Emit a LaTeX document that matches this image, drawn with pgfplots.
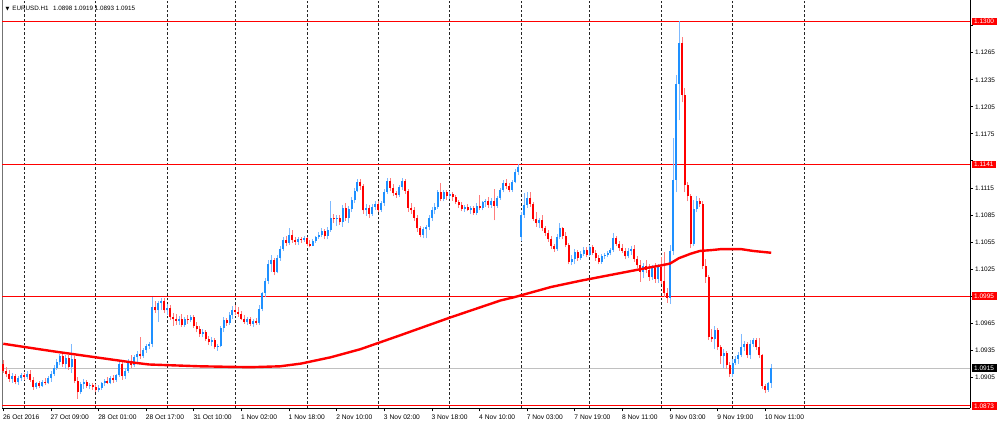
\documentclass[border=0pt]{standalone}
\usepackage{pgfplots}
\pgfplotsset{compat=1.18}
\usepackage{pgfplotstable}
\usepackage{fontspec}
\setmainfont{Liberation Sans}
\newfontfamily\dejavu{DejaVu Sans}
\definecolor{mtred}{RGB}{255,0,0}
\definecolor{bullbody}{RGB}{30,144,255}
\definecolor{bullwick}{RGB}{125,185,255}
\definecolor{bearbody}{RGB}{255,0,0}
\definecolor{bearwick}{RGB}{255,125,125}
\definecolor{lvlgray}{RGB}{192,192,192}

\pgfplotstableread{
x o h l c
0 1.0920 1.0924 1.0910 1.0912
1 1.0912 1.0916 1.0905 1.0908
2 1.0908 1.0913 1.0900 1.0903
3 1.0903 1.0910 1.0899 1.0906
4 1.0906 1.0909 1.0897 1.0900
5 1.0900 1.0906 1.0896 1.0904
6 1.0904 1.0910 1.0901 1.0907
7 1.0907 1.0910 1.0902 1.0905
8 1.0905 1.0912 1.0903 1.0909
9 1.0909 1.0913 1.0900 1.0902
10 1.0902 1.0905 1.0891 1.0894
11 1.0894 1.0900 1.0892 1.0898
12 1.0898 1.0901 1.0893 1.0895
13 1.0895 1.0902 1.0894 1.0900
14 1.0900 1.0904 1.0896 1.0898
15 1.0898 1.0906 1.0897 1.0904
16 1.0904 1.0912 1.0900 1.0909
17 1.0909 1.0918 1.0906 1.0915
18 1.0915 1.0925 1.0913 1.0922
19 1.0922 1.0931 1.0918 1.0928
20 1.0928 1.0932 1.0916 1.0919
21 1.0919 1.0930 1.0914 1.0926
22 1.0926 1.0929 1.0913 1.0916
23 1.0916 1.0942 1.0910 1.0925
24 1.0925 1.0928 1.0898 1.0901
25 1.0901 1.0905 1.0881 1.0888
26 1.0888 1.0900 1.0886 1.0897
27 1.0897 1.0903 1.0892 1.0900
28 1.0900 1.0902 1.0893 1.0895
29 1.0895 1.0899 1.0892 1.0896
30 1.0896 1.0898 1.0891 1.0894
31 1.0894 1.0897 1.0889 1.0891
32 1.0891 1.0896 1.0888 1.0893
33 1.0893 1.0900 1.0891 1.0898
34 1.0898 1.0903 1.0895 1.0901
35 1.0901 1.0905 1.0897 1.0899
36 1.0899 1.0906 1.0897 1.0904
37 1.0904 1.0907 1.0899 1.0902
38 1.0902 1.0909 1.0900 1.0907
39 1.0907 1.0922 1.0905 1.0919
40 1.0919 1.0922 1.0902 1.0906
41 1.0906 1.0915 1.0903 1.0912
42 1.0912 1.0925 1.0910 1.0922
43 1.0922 1.0930 1.0915 1.0918
44 1.0918 1.0930 1.0916 1.0927
45 1.0927 1.0934 1.0922 1.0931
46 1.0931 1.0949 1.0925 1.0928
47 1.0928 1.0937 1.0926 1.0935
48 1.0935 1.0942 1.0932 1.0940
49 1.0940 1.0944 1.0936 1.0942
50 1.0942 1.0994 1.0938 1.0983
51 1.0983 1.0990 1.0976 1.0979
52 1.0979 1.0990 1.0966 1.0987
53 1.0987 1.0993 1.0980 1.0989
54 1.0989 1.0993 1.0976 1.0979
55 1.0979 1.0986 1.0974 1.0982
56 1.0982 1.0985 1.0968 1.0972
57 1.0972 1.0976 1.0962 1.0969
58 1.0969 1.0975 1.0963 1.0967
59 1.0967 1.0973 1.0963 1.0970
60 1.0970 1.0975 1.0961 1.0963
61 1.0963 1.0972 1.0961 1.0969
62 1.0969 1.0974 1.0964 1.0968
63 1.0968 1.0974 1.0966 1.0972
64 1.0972 1.0974 1.0960 1.0962
65 1.0962 1.0966 1.0955 1.0958
66 1.0958 1.0962 1.0950 1.0953
67 1.0953 1.0958 1.0949 1.0955
68 1.0955 1.0957 1.0945 1.0947
69 1.0947 1.0951 1.0941 1.0944
70 1.0944 1.0949 1.0940 1.0946
71 1.0946 1.0948 1.0936 1.0938
72 1.0938 1.0942 1.0934 1.0940
73 1.0940 1.0962 1.0938 1.0960
74 1.0960 1.0972 1.0955 1.0968
75 1.0968 1.0971 1.0962 1.0965
76 1.0965 1.0977 1.0963 1.0974
77 1.0974 1.0984 1.0970 1.0980
78 1.0980 1.0985 1.0974 1.0977
79 1.0977 1.0983 1.0972 1.0975
80 1.0975 1.0978 1.0968 1.0970
81 1.0970 1.0974 1.0964 1.0966
82 1.0966 1.0972 1.0963 1.0969
83 1.0969 1.0972 1.0962 1.0964
84 1.0964 1.0970 1.0961 1.0967
85 1.0967 1.0971 1.0963 1.0965
86 1.0965 1.0985 1.0963 1.0981
87 1.0981 1.1000 1.0978 1.0998
88 1.0998 1.1015 1.0994 1.1012
89 1.1012 1.1035 1.1008 1.1030
90 1.1030 1.1040 1.1022 1.1035
91 1.1035 1.1037 1.1018 1.1022
92 1.1022 1.1040 1.1020 1.1037
93 1.1037 1.1050 1.1034 1.1047
94 1.1047 1.1060 1.1045 1.1057
95 1.1057 1.1062 1.1050 1.1054
96 1.1054 1.1070 1.1052 1.1063
97 1.1063 1.1068 1.1054 1.1057
98 1.1057 1.1060 1.1052 1.1055
99 1.1055 1.1060 1.1052 1.1058
100 1.1058 1.1061 1.1054 1.1057
101 1.1057 1.1062 1.1055 1.1059
102 1.1059 1.1061 1.1051 1.1053
103 1.1053 1.1057 1.1049 1.1051
104 1.1051 1.1058 1.1050 1.1056
105 1.1056 1.1062 1.1054 1.1060
106 1.1060 1.1066 1.1058 1.1063
107 1.1063 1.1070 1.1060 1.1067
108 1.1067 1.1069 1.1058 1.1062
109 1.1062 1.1072 1.1058 1.1068
110 1.1068 1.1101 1.1066 1.1082
111 1.1082 1.1086 1.1076 1.1080
112 1.1080 1.1085 1.1073 1.1082
113 1.1082 1.1085 1.1074 1.1077
114 1.1077 1.1096 1.1072 1.1093
115 1.1093 1.1098 1.1078 1.1082
116 1.1082 1.1095 1.1076 1.1092
117 1.1092 1.1105 1.1088 1.1102
118 1.1102 1.1115 1.1098 1.1112
119 1.1112 1.1125 1.1110 1.1121
120 1.1121 1.1125 1.1113 1.1117
121 1.1117 1.1119 1.1086 1.1090
122 1.1090 1.1097 1.1084 1.1093
123 1.1093 1.1096 1.1082 1.1086
124 1.1086 1.1097 1.1084 1.1094
125 1.1094 1.1100 1.1090 1.1097
126 1.1097 1.1100 1.1088 1.1091
127 1.1091 1.1100 1.1088 1.1098
128 1.1098 1.1114 1.1095 1.1111
129 1.1111 1.1126 1.1108 1.1123
130 1.1123 1.1126 1.1112 1.1115
131 1.1115 1.1119 1.1106 1.1109
132 1.1109 1.1112 1.1104 1.1107
133 1.1107 1.1118 1.1105 1.1116
134 1.1116 1.1126 1.1113 1.1123
135 1.1123 1.1125 1.1108 1.1112
136 1.1112 1.1114 1.1088 1.1093
137 1.1093 1.1098 1.1086 1.1090
138 1.1090 1.1094 1.1078 1.1082
139 1.1082 1.1085 1.1066 1.1070
140 1.1070 1.1073 1.1060 1.1063
141 1.1063 1.1072 1.1059 1.1069
142 1.1069 1.1074 1.1059 1.1072
143 1.1072 1.1085 1.1068 1.1082
144 1.1082 1.1094 1.1078 1.1090
145 1.1090 1.1098 1.1086 1.1094
146 1.1094 1.1113 1.1092 1.1110
147 1.1110 1.1120 1.1100 1.1103
148 1.1103 1.1113 1.1100 1.1110
149 1.1110 1.1113 1.1102 1.1106
150 1.1106 1.1112 1.1103 1.1108
151 1.1108 1.1110 1.1101 1.1105
152 1.1105 1.1107 1.1097 1.1099
153 1.1099 1.1102 1.1093 1.1096
154 1.1096 1.1099 1.1089 1.1092
155 1.1092 1.1096 1.1088 1.1094
156 1.1094 1.1097 1.1089 1.1091
157 1.1091 1.1095 1.1086 1.1093
158 1.1093 1.1095 1.1085 1.1087
159 1.1087 1.1098 1.1085 1.1095
160 1.1095 1.1107 1.1090 1.1093
161 1.1093 1.1101 1.1090 1.1099
162 1.1099 1.1103 1.1094 1.1101
163 1.1101 1.1105 1.1093 1.1096
164 1.1096 1.1104 1.1093 1.1101
165 1.1101 1.1114 1.1079 1.1095
166 1.1095 1.1106 1.1093 1.1104
167 1.1104 1.1115 1.1102 1.1113
168 1.1113 1.1124 1.1110 1.1120
169 1.1120 1.1125 1.1114 1.1117
170 1.1117 1.1120 1.1110 1.1113
171 1.1113 1.1124 1.1111 1.1122
172 1.1122 1.1136 1.1120 1.1133
173 1.1133 1.1141 1.1129 1.1138
174 1.1061 1.1088 1.1056 1.1085
175 1.1085 1.1109 1.1082 1.1096
176 1.1096 1.1110 1.1093 1.1104
177 1.1104 1.1110 1.1094 1.1097
178 1.1097 1.1099 1.1078 1.1081
179 1.1081 1.1088 1.1072 1.1076
180 1.1076 1.1082 1.1070 1.1079
181 1.1079 1.1085 1.1067 1.1070
182 1.1070 1.1073 1.1062 1.1065
183 1.1065 1.1068 1.1055 1.1058
184 1.1058 1.1062 1.1047 1.1050
185 1.1050 1.1053 1.1044 1.1047
186 1.1047 1.1064 1.1045 1.1061
187 1.1061 1.1076 1.1058 1.1070
188 1.1070 1.1072 1.1058 1.1062
189 1.1062 1.1066 1.1049 1.1052
190 1.1052 1.1054 1.1030 1.1033
191 1.1033 1.1040 1.1029 1.1036
192 1.1036 1.1047 1.1030 1.1044
193 1.1044 1.1046 1.1034 1.1037
194 1.1037 1.1045 1.1035 1.1042
195 1.1042 1.1049 1.1039 1.1046
196 1.1046 1.1049 1.1038 1.1041
197 1.1041 1.1052 1.1039 1.1049
198 1.1049 1.1052 1.1040 1.1043
199 1.1043 1.1046 1.1034 1.1037
200 1.1037 1.1040 1.1030 1.1033
201 1.1033 1.1042 1.1031 1.1039
202 1.1039 1.1043 1.1036 1.1041
203 1.1041 1.1045 1.1038 1.1043
204 1.1043 1.1048 1.1040 1.1046
205 1.1046 1.1065 1.1044 1.1059
206 1.1059 1.1062 1.1050 1.1053
207 1.1053 1.1056 1.1045 1.1048
208 1.1048 1.1053 1.1043 1.1045
209 1.1045 1.1048 1.1036 1.1039
210 1.1039 1.1048 1.1037 1.1045
211 1.1045 1.1050 1.1041 1.1047
212 1.1047 1.1052 1.1033 1.1036
213 1.1036 1.1039 1.1026 1.1029
214 1.1029 1.1035 1.1011 1.1022
215 1.1022 1.1032 1.1015 1.1028
216 1.1028 1.1035 1.1020 1.1024
217 1.1024 1.1030 1.1012 1.1016
218 1.1016 1.1029 1.1013 1.1026
219 1.1026 1.1032 1.1010 1.1014
220 1.1014 1.1030 1.1010 1.1027
221 1.1027 1.1038 1.1008 1.1012
222 1.1012 1.1044 1.0994 1.0998
223 1.0998 1.1004 1.0987 1.0993
224 1.0993 1.1052 1.0986 1.1045
225 1.1045 1.1170 1.1040 1.1124
226 1.1124 1.1240 1.1110 1.1230
227 1.1230 1.1300 1.1190 1.1276
228 1.1276 1.1282 1.1210 1.1218
229 1.1218 1.1226 1.1110 1.1118
230 1.1118 1.1122 1.1100 1.1106
231 1.1106 1.1108 1.1048 1.1053
232 1.1053 1.1102 1.1050 1.1092
233 1.1092 1.1106 1.1088 1.1101
234 1.1101 1.1104 1.1094 1.1097
235 1.1097 1.1100 1.1025 1.1028
236 1.1028 1.1036 1.1010 1.1016
237 1.1016 1.1018 1.0946 1.0950
238 1.0950 1.0958 1.0944 1.0947
239 1.0947 1.0962 1.0936 1.0957
240 1.0957 1.0959 1.0935 1.0938
241 1.0938 1.0941 1.0920 1.0928
242 1.0928 1.0936 1.0915 1.0932
243 1.0932 1.0934 1.0914 1.0918
244 1.0918 1.0922 1.0905 1.0908
245 1.0908 1.0925 1.0905 1.0921
246 1.0921 1.0928 1.0918 1.0925
247 1.0925 1.0933 1.0920 1.0930
248 1.0930 1.0953 1.0927 1.0938
249 1.0938 1.0945 1.0934 1.0942
250 1.0942 1.0944 1.0926 1.0929
251 1.0929 1.0946 1.0925 1.0942
252 1.0942 1.0948 1.0938 1.0946
253 1.0946 1.0948 1.0935 1.0938
254 1.0938 1.0948 1.0926 1.0929
255 1.0929 1.0931 1.0892 1.0895
256 1.0895 1.0897 1.0887 1.0891
257 1.0891 1.0900 1.0889 1.0898
258 1.0898 1.0919 1.0893 1.0915
}\candles

\pgfplotstableread{
x y
0 1.0942
16 1.0934
31 1.0927
44 1.0921
49 1.0919
66 1.0917
83 1.0916
93 1.0917
100 1.0920
110 1.0927
120 1.0936
133 1.0951
150 1.0971
167 1.0990
172 1.0994
184 1.1005
194 1.1012
205 1.1019
216 1.1026
221 1.1029
224 1.1031
227 1.1037
231 1.1042
234 1.1045
238 1.1046
241 1.1047
248 1.1047
252 1.1045
258 1.1043
}\ma

\begin{document}
\begin{tikzpicture}
\path (-2bp,-16bp) rectangle (998bp,408bp);
\begin{axis}[
  at={(0,0)}, anchor=south west,
  scale only axis, width=968bp, height=408bp,
  xmin=-0.34, xmax=324.8, ymin=1.08703, ymax=1.13230,
  axis x line*=bottom, axis y line*=right,
  axis line style={black, line width=1bp},
  clip=false,
  scaled y ticks=false,
  xtick={0,16,32,48,64,80,96,112,128,144,160,176,192,208,224,240,256},
  xticklabels={26 Oct 2016,27 Oct 09:00,28 Oct 01:00,28 Oct 17:00,31 Oct 10:00,1 Nov 02:00,1 Nov 18:00,2 Nov 10:00,3 Nov 02:00,3 Nov 18:00,4 Nov 10:00,7 Nov 03:00,7 Nov 19:00,8 Nov 11:00,9 Nov 03:00,9 Nov 19:00,10 Nov 11:00},
  ytick={1.0905,1.0935,1.0965,1.0995,1.1025,1.1055,1.1085,1.1115,1.1145,1.1175,1.1205,1.1235,1.1265,1.1295},
  yticklabels={1.0905,1.0935,1.0965,,1.1025,1.1055,1.1085,1.1115,,1.1175,1.1205,1.1235,1.1265,},
  tick align=outside, major tick length=3bp,
  tick style={black, line width=0.8bp},
  xticklabel style={anchor=north west, inner sep=0pt, font=\fontsize{6.7}{7}\selectfont, xshift=-0.5bp, yshift=-3bp},
  yticklabel style={anchor=west, inner sep=0pt, font=\fontsize{6.5}{7}\selectfont, xshift=2bp},
]
% day separators
\pgfplotsinvokeforeach{7,31,55,78,102,126,150,174,197,221,245,269}{
  \draw[black!85, line width=0.8bp, dash pattern=on 2.5bp off 2bp] (axis cs:#1,1.08703) -- (axis cs:#1,1.13230);
}
% left frame
\draw[black!55, line width=1bp] (axis cs:-0.34,1.08703) -- (axis cs:-0.34,1.13230);
% price line
\draw[lvlgray, line width=0.8bp] (axis cs:-0.34,1.0915) -- (axis cs:324.8,1.0915);
% horizontal levels
\pgfplotsinvokeforeach{1.1300,1.1141,1.0995,1.0873}{
  \draw[mtred, line width=1bp] (axis cs:-0.34,#1) -- (axis cs:324.8,#1);
}
% wicks
\addplot[forget plot, draw=none, mark=none,
  restrict expr to domain={\thisrow{c}-\thisrow{o}}{0:1},
  error bars/.cd, y dir=plus, y explicit, error mark=none,
  error bar style={line width=0.8bp, draw=bullwick}]
  table[x=x, y=l, y error plus expr={\thisrow{h}-\thisrow{l}}] {\candles};
\addplot[forget plot, draw=none, mark=none,
  restrict expr to domain={\thisrow{c}-\thisrow{o}}{-1:-0.00001},
  error bars/.cd, y dir=plus, y explicit, error mark=none,
  error bar style={line width=0.8bp, draw=bearwick}]
  table[x=x, y=l, y error plus expr={\thisrow{h}-\thisrow{l}}] {\candles};
% bodies
\addplot[forget plot, draw=none, mark=none,
  restrict expr to domain={\thisrow{c}-\thisrow{o}}{0:1},
  error bars/.cd, y dir=plus, y explicit, error mark=none,
  error bar style={line width=2bp, draw=bullbody}]
  table[x=x, y=o, y error plus expr={\thisrow{c}-\thisrow{o}}] {\candles};
\addplot[forget plot, draw=none, mark=none,
  restrict expr to domain={\thisrow{c}-\thisrow{o}}{-1:-0.00001},
  error bars/.cd, y dir=plus, y explicit, error mark=none,
  error bar style={line width=2bp, draw=bearbody}]
  table[x=x, y=c, y error plus expr={\thisrow{o}-\thisrow{c}}] {\candles};
% moving average
\addplot[mtred, line width=2.4bp, no markers, line join=round] table[x=x, y=y] {\ma};
\coordinate (b1) at (axis cs:324.8,1.1300);
\coordinate (b2) at (axis cs:324.8,1.1141);
\coordinate (b3) at (axis cs:324.8,1.0995);
\coordinate (b4) at (axis cs:324.8,1.0873);
\coordinate (b5) at (axis cs:324.8,1.0915);
\end{axis}
\foreach \n/\v/\c in {b1/1.1300/mtred, b2/1.1141/mtred, b3/1.0995/mtred, b4/1.0873/mtred, b5/1.0915/black}{
  \node[anchor=west, fill=\c, text=white, inner xsep=2.5bp, inner ysep=1.4bp, font=\fontsize{6.5}{7}\selectfont] at ([xshift=1.5bp]\n) {\v};
}
\node[anchor=west, inner sep=0pt, font=\fontsize{6.3}{7}\selectfont] at (3bp,400.3bp) {{\dejavu\fontsize{5}{6}\selectfont ▼}\hspace{3bp}EURUSD.H1\hspace{4.5bp}1.0898 1.0919 1.0893 1.0915};
\end{tikzpicture}
\end{document}
